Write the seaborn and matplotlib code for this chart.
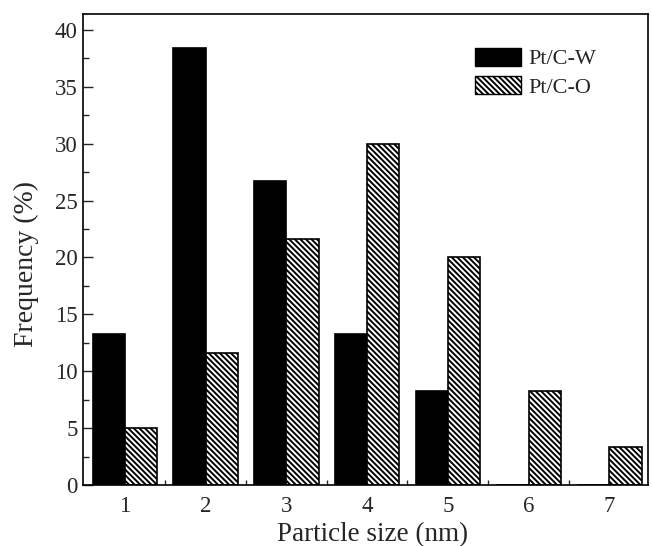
import matplotlib
matplotlib.use("Agg")
import matplotlib.pyplot as plt
import seaborn as sns
import pandas as pd
import numpy as np
from matplotlib.patches import Patch
from matplotlib.ticker import MultipleLocator, FixedLocator

sizes = ["1", "2", "3", "4", "5", "6", "7"]
series_names = ["Pt/C-W", "Pt/C-O"]
pt_c_w = [13.3, 38.4, 26.7, 13.3, 8.3, 0.0, 0.0]
pt_c_o = [5.0, 11.6, 21.6, 30.0, 20.0, 8.3, 3.3]

df = pd.DataFrame({
    "size": sizes * 2,
    "freq": pt_c_w + pt_c_o,
    "sample": [series_names[0]] * len(sizes) + [series_names[1]] * len(sizes),
})

sns.set_style("ticks")
plt.rcParams["font.family"] = ["Liberation Serif", "DejaVu Serif"]
plt.rcParams["hatch.linewidth"] = 1.4

HATCH = "\\" * 6

fig = plt.figure(figsize=(6.52, 5.46), dpi=100)
ax = fig.add_axes([83 / 652, 1 - 485 / 546, (648 - 83) / 652, (485 - 14) / 546])

sns.barplot(data=df, x="size", y="freq", hue="sample", order=sizes,
            hue_order=series_names, palette=["black", "white"],
            width=0.8, edgecolor="black", linewidth=1.2, saturation=1,
            legend=False, ax=ax)

n = len(sizes)
for i, p in enumerate(ax.patches[:2 * n]):
    if i >= n:
        p.set_facecolor("white")
        p.set_hatch(HATCH)
        p.set_edgecolor("black")

ax.set_axisbelow(True)
ax.set_xlim(-0.52, 6.48)
ax.set_ylim(0, 41.4)
ax.yaxis.set_major_locator(MultipleLocator(5))
ax.yaxis.set_minor_locator(MultipleLocator(2.5))
ax.xaxis.set_minor_locator(FixedLocator(np.arange(0.5, 6.5, 1.0)))

ax.tick_params(axis="y", which="major", direction="in", length=7.2, width=1.0,
               labelsize=16.5, pad=4, right=False)
ax.tick_params(axis="y", which="minor", direction="in", length=4, width=1.0, right=False)
ax.tick_params(axis="x", which="major", direction="in", length=0, labelsize=16.5, pad=8)
ax.tick_params(axis="x", which="minor", direction="in", length=3.5, width=1.0)

for s in ax.spines.values():
    s.set_visible(True)
    s.set_linewidth(1.2)
    s.set_color("black")

ax.set_xlabel("Particle size (nm)", fontsize=19.5)
ax.set_ylabel("Frequency (%)", fontsize=20)
ax.xaxis.set_label_coords(0.512, -0.078)
ax.yaxis.set_label_coords(-0.077, 0.47)

handles = [Patch(facecolor="black", edgecolor="black", label=series_names[0]),
           Patch(facecolor="white", edgecolor="black", hatch=HATCH, label=series_names[1])]
ax.legend(handles=handles, loc="upper left", bbox_to_anchor=(0.693, 0.928),
          frameon=False, fontsize=16, borderpad=0, borderaxespad=0,
          handlelength=2.1, handleheight=0.85, handletextpad=0.3, labelspacing=0.3)

fig.savefig("out.png", dpi=100)
